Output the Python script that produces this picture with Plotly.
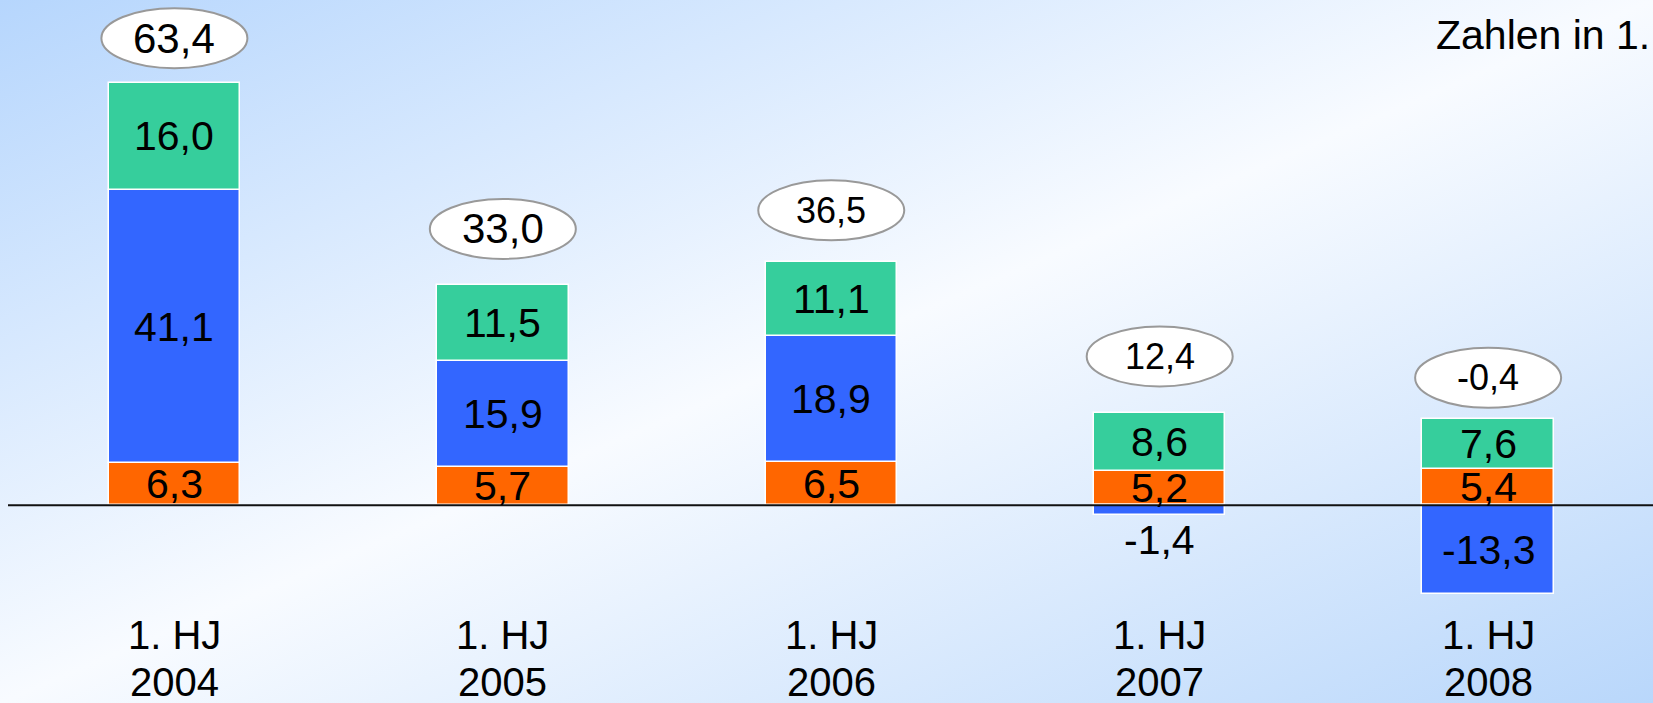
import base64
import plotly.graph_objects as go

# ---- data ----
categories_line1 = ["1. HJ", "1. HJ", "1. HJ", "1. HJ", "1. HJ"]
categories_line2 = ["2004", "2005", "2006", "2007", "2008"]
orange_vals = [6.3, 5.7, 6.5, 5.2, 5.4]
blue_vals = [41.1, 15.9, 18.9, -1.4, -13.3]
green_vals = [16.0, 11.5, 11.1, 8.6, 7.6]
totals = [63.4, 33.0, 36.5, 12.4, -0.4]
unit_note = "Zahlen in 1."

# ---- styling ----
W, H = 1653, 703
FONT = "Liberation Sans, Arial, sans-serif"
colors = {"orange": "#FF6600", "blue": "#3366FF", "green": "#36CE9C"}
y_range = [-29.7, 75.9]
x_range = [-0.531, 4.502]
px_per_unit = H / (y_range[1] - y_range[0])
total_offset_px = [45, 56, 52, 57, 41]
total_font = [42, 42, 36, 36, 36]
seg_font = 41


def fmt(v):
    return f"{v:.1f}".replace(".", ",")


idx = list(range(len(categories_line2)))
fig = go.Figure()
series = [("orange", orange_vals), ("blue", blue_vals), ("green", green_vals)]
for name, vals in series:
    fig.add_trace(go.Bar(
        x=idx, y=vals, width=0.40,
        marker=dict(color=colors[name], line=dict(color="white", width=1.5)),
        hoverinfo="skip", showlegend=False,
    ))

annotations = []
pos_base = [0.0] * len(idx)
neg_base = [0.0] * len(idx)
for name, vals in series:
    for i, v in enumerate(vals):
        if v >= 0:
            b0 = pos_base[i]
            pos_base[i] += v
        else:
            b0 = neg_base[i]
            neg_base[i] += v
        end = b0 + v
        if abs(v) * px_per_unit < 20:
            annotations.append(dict(x=i, y=end, xref="x", yref="y", text=fmt(v), showarrow=False,
                                    yanchor="top" if v < 0 else "bottom",
                                    font=dict(family=FONT, size=seg_font, color="black")))
        else:
            annotations.append(dict(x=i, y=(b0 + end) / 2, xref="x", yref="y", text=fmt(v),
                                    showarrow=False, yanchor="middle",
                                    font=dict(family=FONT, size=seg_font, color="black")))

shapes = []
for i, t in enumerate(totals):
    top = pos_base[i]
    off = total_offset_px[i]
    shapes.append(dict(type="circle", xref="x", yref="y", xsizemode="pixel", ysizemode="pixel",
                       xanchor=i, yanchor=top, x0=-73, x1=73, y0=off - 30, y1=off + 30,
                       fillcolor="white", line=dict(color="#999999", width=2), layer="above"))
    annotations.append(dict(x=i, y=top, xref="x", yref="y", yshift=off, text=fmt(t), showarrow=False,
                            yanchor="middle", font=dict(family=FONT, size=total_font[i], color="black")))

for i in idx:
    annotations.append(dict(x=i, y=1 - 635 / H, xref="x", yref="paper", text=categories_line1[i],
                            showarrow=False, yanchor="middle",
                            font=dict(family=FONT, size=40, color="black")))
    annotations.append(dict(x=i, y=1 - 682 / H, xref="x", yref="paper", text=categories_line2[i],
                            showarrow=False, yanchor="middle",
                            font=dict(family=FONT, size=40, color="black")))

annotations.append(dict(x=1434 / W, y=1 - 35 / H, xref="paper", yref="paper", text=unit_note,
                        showarrow=False, xanchor="left", yanchor="middle",
                        font=dict(family=FONT, size=41, color="black")))

shapes.append(dict(type="line", xref="paper", yref="y", x0=8 / W, x1=1, y0=0, y1=0,
                   line=dict(color="#111111", width=2), layer="above"))

svg = (f'<svg xmlns="http://www.w3.org/2000/svg" width="{W}" height="{H}" viewBox="0 0 {W} {H}" '
       'preserveAspectRatio="none"><defs><linearGradient id="g" x1="0" y1="0" x2="1" y2="1">'
       '<stop offset="0" stop-color="#b6d6fd"/><stop offset="0.5" stop-color="#f8fbff"/>'
       '<stop offset="1" stop-color="#b9d7fb"/></linearGradient></defs>'
       f'<rect width="{W}" height="{H}" fill="url(#g)"/></svg>')
src = "data:image/svg+xml;base64," + base64.b64encode(svg.encode()).decode()

fig.update_layout(
    width=W, height=H, margin=dict(l=0, r=0, t=0, b=0),
    barmode="relative", bargap=0,
    paper_bgcolor="rgba(0,0,0,0)", plot_bgcolor="rgba(0,0,0,0)",
    xaxis=dict(range=x_range, visible=False, fixedrange=True),
    yaxis=dict(range=y_range, visible=False, fixedrange=True),
    images=[dict(source=src, xref="paper", yref="paper", x=0, y=1, sizex=1, sizey=1,
                 sizing="stretch", xanchor="left", yanchor="top", layer="below")],
    annotations=annotations, shapes=shapes,
)
fig.write_html("out.html", config={"displayModeBar": False},
               post_script="document.body.style.margin='0';document.body.style.overflow='hidden';")
